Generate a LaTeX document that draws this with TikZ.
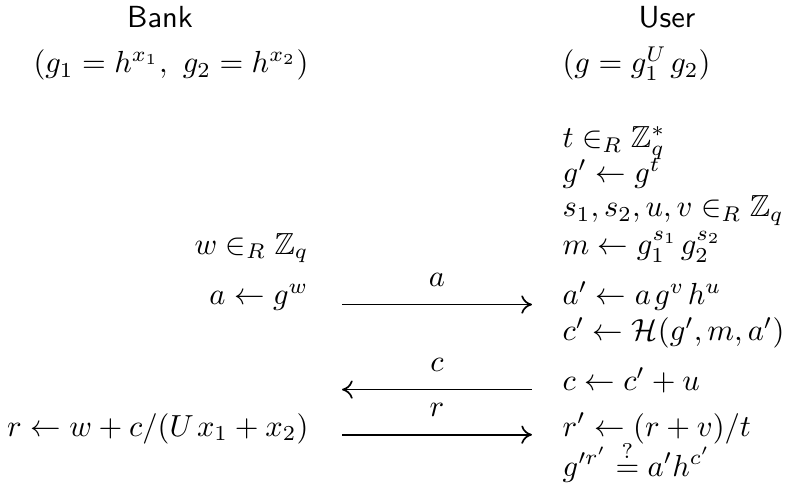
\documentclass[tikz,border=0pt]{standalone}
\usepackage{amsmath,amssymb}
\usepackage{tikz}
\usetikzlibrary{arrows.meta, positioning}
\newcommand{\Zq}{\mathbb{Z}_q}

\begin{document}
\begin{tikzpicture}[x=1cm, y=1cm,
  hd/.style={inner sep=0pt, anchor=base, font=\sffamily},
  lft/.style={inner sep=0pt, anchor=base east},
  rgt/.style={inner sep=0pt, anchor=base west},
  msg/.style={-{To[length=3.5pt, width=6pt]}, line width=0.55pt},
  tag/.style={above=5.6pt, inner sep=0pt}
]
\useasboundingbox (0,0) rectangle (9.057,5.669);
% headers
\node[hd] at (1.844, 5.347) (bank) {Bank};
\node[hd] at (7.686, 5.347) (user) {User};
\node[lft] at (3.561, 4.828) (bpar) {$(g_1 = h^{x_1},\ g_2 = h^{x_2})$};
\node[rgt] at (6.476, 4.828) (upar) {$(g = g_1^U\mkern2mu g_2)$};
% user side
\node[rgt] at (6.476, 3.964) (ut)  {$t \in_R \Zq^*$};
\node[rgt] at (6.476, 3.561) (ug)  {$g' \leftarrow g^t$};
\node[rgt] at (6.476, 3.169) (us)  {$s_1, s_2, u, v \in_R \Zq$};
\node[rgt] at (6.476, 2.742) (um)  {$m \leftarrow g_1^{s_1}\mkern2mu g_2^{s_2}$};
\node[rgt] at (6.476, 2.155) (ua)  {$a' \leftarrow a\mkern2mu g^v\mkern2mu h^u$};
\node[rgt] at (6.476, 1.740) (uc1) {$c' \leftarrow \mathcal{H}(g', m, a')$};
\node[rgt] at (6.476, 1.164) (uc)  {$c \leftarrow c' + u$};
\node[rgt] at (6.476, 0.645) (ur)  {$r' \leftarrow (r + v)/t$};
\node[rgt] at (6.476, 0.184) (uchk) {$g^{\prime r'} \stackrel{?}{=} a' h^{c'}$};
% bank side
\node[lft] at (3.561, 2.742) (bw) {$w \in_R \Zq$};
\node[lft] at (3.561, 2.155) (ba) {$a \leftarrow g^w$};
\node[lft] at (3.561, 0.645) (br) {$r \leftarrow w + c/(U\mkern2mu x_1 + x_2)$};
% messages
\coordinate (aL) at (3.941, 2.16);
\coordinate (aR) at (6.130, 2.16);
\coordinate (cL) at (3.941, 1.18);
\coordinate (cR) at (6.130, 1.18);
\coordinate (rL) at (3.941, 0.66);
\coordinate (rR) at (6.130, 0.66);
\draw[msg] (aL) -- node[tag] (ma) {$a$} (aR);
\draw[msg] (cR) -- node[tag] (mc) {$c$} (cL);
\draw[msg] (rL) -- node[tag] (mr) {$r$} (rR);
\end{tikzpicture}
\end{document}
